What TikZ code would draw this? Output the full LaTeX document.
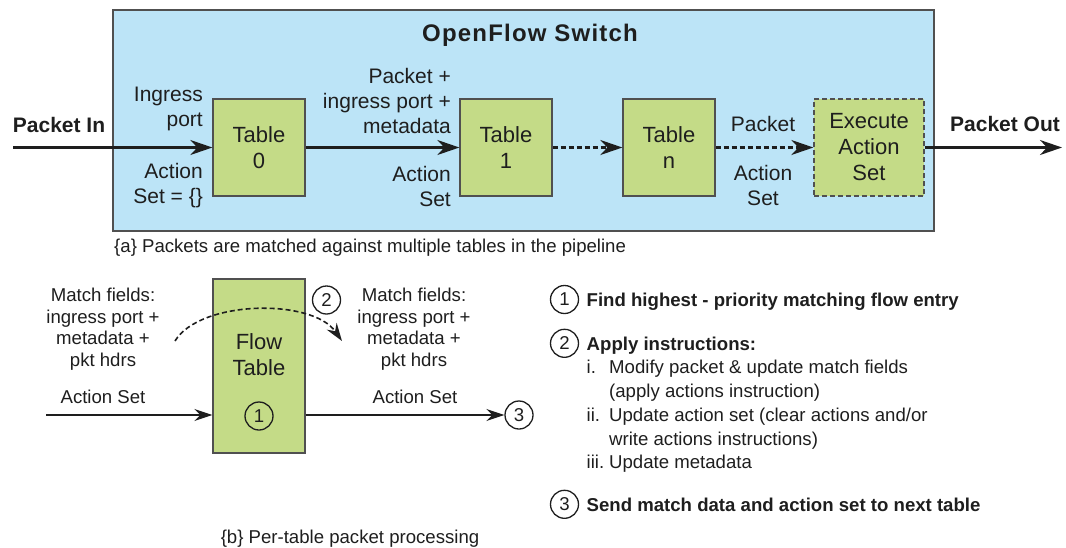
\documentclass[tikz,border=0pt]{standalone}
\usepackage{fontspec}
\setmainfont{Liberation Sans}
\usetikzlibrary{arrows.meta}
\definecolor{swblue}{RGB}{188,228,247}
\definecolor{tgreen}{RGB}{196,219,135}
\definecolor{edgegray}{RGB}{80,80,80}
\definecolor{ink}{RGB}{30,30,30}
\newcommand{\fsA}{\fontsize{21pt}{25pt}\selectfont}
\newcommand{\fsB}{\fontsize{18.6pt}{21.5pt}\selectfont}
\newcommand{\fsT}{\fontsize{22pt}{26pt}\selectfont}
\newcommand{\fsH}{\fontsize{24pt}{28pt}\selectfont\bfseries\addfontfeature{LetterSpace=5}}
\begin{document}
\begin{tikzpicture}[x=1pt,y=-1pt,
  tbl/.style={draw=edgegray, line width=1.3pt, fill=tgreen, minimum width=92pt, minimum height=97pt, align=center, font=\fsT, text=ink, inner sep=0pt},
  lbl/.style={font=\fsA, text=ink, inner sep=0pt},
  sml/.style={font=\fsB, text=ink, inner sep=0pt},
  bigarr/.style={line width=2.2pt, draw=ink, -{Stealth[length=22pt,width=15pt,inset=7pt]}},
  smarr/.style={line width=1.6pt, draw=ink, -{Stealth[length=18pt,width=12pt,inset=6pt]}},
  num/.style={circle, draw=ink, line width=1.3pt, minimum size=28pt, inner sep=0pt, font=\fsB, text=ink},
  dsh/.style={dash pattern=on 5pt off 3pt}
]
\useasboundingbox (0,0) rectangle (1066,547);

% ---------- (a) OpenFlow switch ----------
\node[draw=edgegray, line width=2.2pt, fill=swblue, minimum width=821pt, minimum height=221pt, inner sep=0pt, anchor=north west] (sw) at (112,9) {};
\node[font=\fsH, text=ink, inner sep=0pt] (title) at (530,35) {OpenFlow Switch};

\node[tbl] (t0) at (259,147.5) {Table\\0};
\node[tbl] (t1) at (506,147.5) {Table\\1};
\node[tbl] (tn) at (669,147.5) {Table\\n};
\node[tbl, dsh, minimum width=110pt] (ex) at (869,147.5) {Execute\\Action\\Set};

\coordinate (pin) at (13,147.5);
\coordinate (pout) at (1062,147.5);
\draw[bigarr] (pin) -- (t0.west);
\draw[bigarr] (t0.east) -- (t1.west);
\draw[bigarr, dsh] (t1.east) -- (tn.west);
\draw[bigarr, dsh] (tn.east) -- (ex.west);
\draw[bigarr] (ex.east) -- (pout);

\node[lbl, font=\fsA\bfseries] (lin) at (59,125) {Packet In};
\node[lbl, font=\fsA\bfseries] (lout) at (1005,124) {Packet Out};
\node[lbl, align=right, anchor=east] (ing) at (203,109) {Ingress\\port};
\node[lbl, align=right, anchor=east] (as0) at (203,186) {Action\\Set = \{\}};
\node[lbl, align=right, anchor=east] (pim) at (451,100.5) {Packet +\\ingress port +\\metadata};
\node[lbl, align=right, anchor=east] (as1) at (451,186) {Action\\Set};
\node[lbl] (pk) at (763,124) {Packet};
\node[lbl, align=center] (asn) at (763,185) {Action\\Set};

\node[sml, anchor=base west] (capa) at (114,252) {\{a\} Packets are matched against multiple tables in the pipeline};

% ---------- (b) per-table processing ----------
\node[tbl, minimum height=174pt] (ft) at (259,366) {};
\node[font=\fsT, text=ink, align=center, inner sep=0pt] (ftl) at (259,355) {Flow\\Table};
\node[num] (f1) at (259,416) {1};

\node[sml, align=center] (mfl) at (103,329) {Match fields:\\ingress port +\\metadata +\\pkt hdrs};
\node[sml] (asl) at (103,397) {Action Set};
\node[sml, align=center] (mfr) at (414,329) {Match fields:\\ingress port +\\metadata +\\pkt hdrs};
\node[sml] (asr) at (415,397) {Action Set};
\node[num] (f2) at (326.5,300) {2};
\node[num] (f3) at (519,415) {3};

\coordinate (ain) at (46,415);
\draw[smarr] (ain) -- (ain -| ft.west);
\draw[smarr] (ft.east |- f3) -- (f3.west);

\coordinate (arcs) at (175,341);
\coordinate (arce) at (342,341);
\draw[smarr, dsh] (arcs) .. controls (200,300) and (312,298) .. (arce);

\node[sml, anchor=base] (capb) at (350,543) {\{b\} Per-table packet processing};

% ---------- list ----------
\node[num] (l1) at (564.5,299.5) {1};
\node[num] (l2) at (564.5,343.3) {2};
\node[num] (l3) at (564.5,504.3) {3};
\node[sml, font=\fsB\bfseries, anchor=base west] (tx1) at (586.5,306.2) {Find highest - priority matching flow entry};
\node[sml, font=\fsB\bfseries, anchor=base west] (tx2) at (586.5,350) {Apply instructions:};
\node[sml, anchor=base west] (r1) at (586.5,373.4) {i.};
\node[sml, anchor=base west] (r1a) at (609,373.4) {Modify packet \& update match fields};
\node[sml, anchor=base west] (r1b) at (609,397.4) {(apply actions instruction)};
\node[sml, anchor=base west] (r2) at (586.5,421.7) {ii.};
\node[sml, anchor=base west] (r2a) at (609,421.7) {Update action set (clear actions and/or};
\node[sml, anchor=base west] (r2b) at (609,445) {write actions instructions)};
\node[sml, anchor=base west] (r3) at (586.5,468.4) {iii.};
\node[sml, anchor=base west] (r3a) at (609,468.4) {Update metadata};
\node[sml, font=\fsB\bfseries, anchor=base west] (tx3) at (586.5,511) {Send match data and action set to next table};
\end{tikzpicture}
\end{document}
